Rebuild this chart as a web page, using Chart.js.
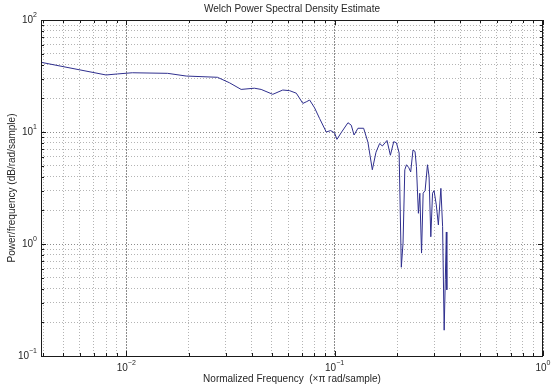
<!DOCTYPE html>
<html>
<head>
<meta charset="utf-8">
<script src="https://cdn.jsdelivr.net/npm/chart.js@4.4.0/dist/chart.umd.min.js"></script>
<style>
  html, body { margin: 0; padding: 0; background: #fff; }
  #wrap { width: 554px; height: 386px; }
</style>
</head>
<body>
<div id="wrap"><canvas id="psdChart" width="554" height="386"></canvas></div>
<script>
// normalized frequency (x pi rad/sample) and PSD estimate
const freq = [0.0039, 0.0080, 0.0091, 0.0107, 0.0158, 0.0194, 0.0274, 0.0313, 0.0356, 0.0412,
  0.0444, 0.0505, 0.0564, 0.0608, 0.0655, 0.0704, 0.0731, 0.0759, 0.0802, 0.0847,
  0.0912, 0.0957, 0.1000, 0.1026, 0.1077, 0.1159, 0.1202, 0.1240, 0.1294, 0.1378,
  0.1445, 0.1517, 0.1580, 0.1645, 0.1695, 0.1784, 0.1852, 0.1922, 0.1981, 0.2040,
  0.2090, 0.2130, 0.2172, 0.2213, 0.2270, 0.2318, 0.2377, 0.2432, 0.2470, 0.2524,
  0.2564, 0.2613, 0.2660, 0.2718, 0.2790, 0.2840, 0.2895, 0.2951, 0.3000, 0.3076,
  0.3147, 0.3236, 0.3298, 0.3355, 0.3398, 0.3437, 0.3455];
const psd = [41.9, 32.3, 33.0, 33.8, 33.4, 31.6, 30.8, 27.5, 24.0, 24.6,
  24.0, 21.7, 23.7, 23.4, 22.2, 18.0, 18.6, 19.3, 16.4, 13.2,
  10.0, 10.3, 9.8, 8.6, 9.9, 12.1, 11.5, 9.4, 10.8, 10.8,
  8.1, 4.6, 6.6, 7.9, 7.5, 8.4, 6.2, 8.2, 8.0, 6.5,
  0.62, 1.02, 4.6, 5.1, 4.8, 4.4, 6.9, 6.7, 4.9, 1.88,
  2.84, 0.83, 2.84, 3.0, 5.1, 4.0, 1.16, 2.84, 3.0, 2.23,
  1.48, 3.14, 1.43, 0.17, 0.48, 1.28, 0.39];

const xDecades = [0.01, 0.1, 1];
const yDecades = [0.1, 1, 10, 100];
const minorSteps = [2, 3, 4, 5, 6, 7, 8, 9];

const X_MIN = 0.0039, X_MAX = 1;
const Y_MIN = 0.1, Y_MAX = 100;
const FONT = '"Liberation Sans", Arial, sans-serif';
const TEXT = '#262626';

// decades plus 2..9 multiples inside [lo, hi]
function logTicks(decades, lo, hi) {
  const out = [];
  const all = [decades[0] / 10].concat(decades);
  all.forEach(d => {
    if (d >= lo && d <= hi) out.push({ value: d, major: true });
    minorSteps.forEach(m => {
      const v = d * m;
      if (v > lo && v < hi) out.push({ value: v, major: false });
    });
  });
  return out.sort((a, b) => a.value - b.value);
}

function gridOpts() {
  return {
    color: ctx => (ctx.tick && ctx.tick.major) ? '#8c8c8c' : '#b4b4b4',
    lineWidth: 1,
    drawTicks: false
  };
}

function drawPow(ctx, v, x, y, align) {
  const base = '10';
  const exp = String(Math.round(Math.log10(v))).replace('-', '\u2212');
  ctx.font = '10px ' + FONT;
  const bw = ctx.measureText(base).width;
  ctx.font = '7px ' + FONT;
  const ew = ctx.measureText(exp).width;
  const left = align === 'right' ? x - bw - ew : x - (bw + ew) / 2;
  ctx.textAlign = 'left';
  ctx.textBaseline = 'middle';
  ctx.font = '10px ' + FONT;
  ctx.fillText(base, left, y);
  ctx.font = '7px ' + FONT;
  ctx.fillText(exp, left + bw, y - 5);
}

const framePlugin = {
  id: 'matlabFrame',
  afterDraw(chart) {
    const { ctx, chartArea: a, scales } = chart;
    const xs = scales.x, ys = scales.y;
    ctx.save();

    // box
    ctx.strokeStyle = '#1a1a1a';
    ctx.lineWidth = 1;
    ctx.strokeRect(a.left + 0.5, a.top + 0.5, a.right - a.left - 1, a.bottom - a.top);

    // inward ticks on all four sides
    ctx.beginPath();
    xs.ticks.forEach(t => {
      const px = Math.round(xs.getPixelForValue(t.value)) + 0.5;
      const len = t.major ? 5 : 3;
      ctx.moveTo(px, a.bottom); ctx.lineTo(px, a.bottom - len);
      ctx.moveTo(px, a.top); ctx.lineTo(px, a.top + len);
    });
    ys.ticks.forEach(t => {
      const py = Math.round(ys.getPixelForValue(t.value)) + 0.5;
      const len = t.major ? 5 : 3;
      ctx.moveTo(a.left, py); ctx.lineTo(a.left + len, py);
      ctx.moveTo(a.right, py); ctx.lineTo(a.right - len, py);
    });
    ctx.stroke();

    // tick labels
    ctx.fillStyle = TEXT;
    xDecades.forEach(v => drawPow(ctx, v, xs.getPixelForValue(v), a.bottom + 12, 'center'));
    yDecades.forEach(v => drawPow(ctx, v, a.left - 4, ys.getPixelForValue(v), 'right'));

    // titles
    const cx = (a.left + a.right) / 2;
    ctx.textAlign = 'center';
    ctx.textBaseline = 'middle';
    ctx.font = '10px ' + FONT;
    ctx.fillText('Welch Power Spectral Density Estimate', cx, 9);
    ctx.fillText('Normalized Frequency  (\u00d7\u03c0 rad/sample)', cx, a.bottom + 23);
    ctx.translate(12, (a.top + a.bottom) / 2);
    ctx.rotate(-Math.PI / 2);
    ctx.fillText('Power/frequency (dB/rad/sample)', 0, 0);
    ctx.restore();
  }
};

new Chart(document.getElementById('psdChart'), {
  type: 'line',
  data: {
    datasets: [{
      data: freq.map((f, i) => ({ x: f, y: psd[i] })),
      borderColor: '#2f2f8e',
      borderWidth: 1,
      pointRadius: 0,
      tension: 0,
      fill: false
    }]
  },
  options: {
    responsive: false,
    animation: false,
    devicePixelRatio: 1,
    layout: { padding: { left: 41, right: 11, top: 20, bottom: 30 } },
    plugins: { legend: { display: false }, tooltip: { enabled: false } },
    scales: {
      x: {
        type: 'logarithmic',
        min: X_MIN,
        max: X_MAX,
        afterBuildTicks: s => { s.ticks = logTicks(xDecades, X_MIN, X_MAX); },
        afterFit: s => { s.height = 0; },
        ticks: { display: false },
        grid: gridOpts(),
        border: { display: false, dash: ctx => (ctx.tick && ctx.tick.major) ? [2, 1] : [1, 2] }
      },
      y: {
        type: 'logarithmic',
        min: Y_MIN,
        max: Y_MAX,
        afterBuildTicks: s => { s.ticks = logTicks(yDecades, Y_MIN, Y_MAX); },
        afterFit: s => { s.width = 0; },
        ticks: { display: false },
        grid: gridOpts(),
        border: { display: false, dash: [1, 2] }
      }
    }
  },
  plugins: [framePlugin]
});
</script>
</body>
</html>
